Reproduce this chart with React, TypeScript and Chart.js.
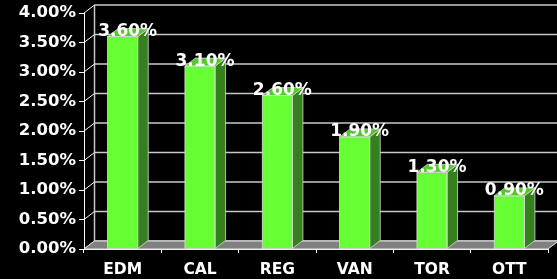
import React, { useEffect, useRef } from "react";
import { Chart, registerables } from "chart.js";

Chart.register(...registerables);

const categories = ["EDM", "CAL", "REG", "VAN", "TOR", "OTT"];
const values = [3.6, 3.1, 2.6, 1.9, 1.3, 0.9];
const yTicks = [0, 0.5, 1, 1.5, 2, 2.5, 3, 3.5, 4];

const DX = 10.5;
const DY = -8;
const FONT = "'DejaVu Sans', Verdana, sans-serif";

const threeD = {
  id: "threeD",
  beforeDatasetsDraw(chart: any) {
    const { ctx, chartArea, scales } = chart;
    const y = scales.y;
    const x = scales.x;
    ctx.save();
    // back wall gridlines
    ctx.strokeStyle = "#c8c8c8";
    ctx.lineWidth = 1.5;
    for (const t of yTicks) {
      const py = y.getPixelForValue(t) + DY;
      ctx.beginPath();
      ctx.moveTo(chartArea.left + DX, py);
      ctx.lineTo(chart.width, py);
      ctx.stroke();
    }
    // back wall left edge
    ctx.beginPath();
    ctx.moveTo(chartArea.left + DX, y.getPixelForValue(4) + DY);
    ctx.lineTo(chartArea.left + DX, y.getPixelForValue(0) + DY);
    ctx.stroke();
    // diagonal ticks from front axis to back wall
    ctx.strokeStyle = "#ffffff";
    ctx.lineWidth = 1;
    for (const t of yTicks) {
      const py = y.getPixelForValue(t);
      ctx.beginPath();
      ctx.moveTo(chartArea.left, py);
      ctx.lineTo(chartArea.left + DX, py + DY);
      ctx.stroke();
    }
    // floor
    const b = y.getPixelForValue(0);
    const l = x.left;
    const r = x.right;
    ctx.fillStyle = "#808080";
    ctx.beginPath();
    ctx.moveTo(l, b);
    ctx.lineTo(r, b);
    ctx.lineTo(r + DX, b + DY);
    ctx.lineTo(l + DX, b + DY);
    ctx.closePath();
    ctx.fill();
    ctx.strokeStyle = "#e0e0e0";
    ctx.lineWidth = 1;
    ctx.stroke();
    ctx.restore();
  },
  afterDatasetsDraw(chart: any) {
    const { ctx } = chart;
    const meta = chart.getDatasetMeta(0);
    ctx.save();
    meta.data.forEach((bar: any) => {
      const half = bar.width / 2;
      const left = bar.x - half;
      const right = bar.x + half;
      const top = bar.y;
      const base = bar.base;
      // side
      ctx.fillStyle = "#34801f";
      ctx.strokeStyle = "#d8d8d8";
      ctx.lineWidth = 0.8;
      ctx.beginPath();
      ctx.moveTo(right, top);
      ctx.lineTo(right + DX, top + DY);
      ctx.lineTo(right + DX, base + DY);
      ctx.lineTo(right, base);
      ctx.closePath();
      ctx.fill();
      ctx.stroke();
      // top
      ctx.fillStyle = "#52c82a";
      ctx.beginPath();
      ctx.moveTo(left, top);
      ctx.lineTo(left + DX, top + DY);
      ctx.lineTo(right + DX, top + DY);
      ctx.lineTo(right, top);
      ctx.closePath();
      ctx.fill();
      ctx.stroke();
      // front outline
      ctx.strokeRect(left, top, bar.width, base - top);
    });
    // labels
    ctx.fillStyle = "#ffffff";
    ctx.font = `bold 17px ${FONT}`;
    ctx.textAlign = "center";
    ctx.textBaseline = "middle";
    meta.data.forEach((bar: any, i: number) => {
      ctx.fillText(values[i].toFixed(2) + "%", bar.x + 5, bar.y - 5);
    });
    ctx.restore();
  },
};

export default function App() {
  const ref = useRef<HTMLCanvasElement>(null);
  useEffect(() => {
    const chart = new Chart(ref.current!, {
      type: "bar",
      data: {
        labels: categories,
        datasets: [
          {
            data: values,
            backgroundColor: "#66ff33",
            borderWidth: 0,
            barPercentage: 0.39,
            categoryPercentage: 1,
          },
        ],
      },
      options: {
        animation: false,
        responsive: false,
        maintainAspectRatio: false,
        layout: { padding: { top: 13, right: 9, left: 0, bottom: 0 } },
        plugins: { legend: { display: false }, tooltip: { enabled: false } },
        scales: {
          x: {
            grid: {
              display: true,
              drawOnChartArea: false,
              tickLength: 4,
              color: "#ffffff",
              offset: true,
            },
            border: { display: true, color: "#ffffff" },
            ticks: {
              color: "#ffffff",
              font: { family: FONT, size: 15.5, weight: "bold" },
              padding: 8,
            },
            afterFit(scale: any) {
              scale.height = 30;
            },
          },
          y: {
            min: 0,
            max: 4,
            grid: {
              display: true,
              drawOnChartArea: false,
              tickLength: 5,
              color: "#ffffff",
            },
            border: { display: true, color: "#ffffff" },
            ticks: {
              stepSize: 0.5,
              color: "#ffffff",
              padding: 3,
              font: { family: FONT, size: 16.5, weight: "bold" },
              callback: (v: any) => Number(v).toFixed(2) + "%",
            },
            afterFit(scale: any) {
              scale.width = 84;
            },
          },
        },
      },
      plugins: [threeD],
    });
    return () => chart.destroy();
  }, []);
  return (
    <div
      style={{
        position: "absolute",
        left: 0,
        top: 0,
        width: 557,
        height: 279,
        background: "#000000",
      }}
    >
      <canvas ref={ref} width={557} height={279} style={{ display: "block" }} />
    </div>
  );
}
